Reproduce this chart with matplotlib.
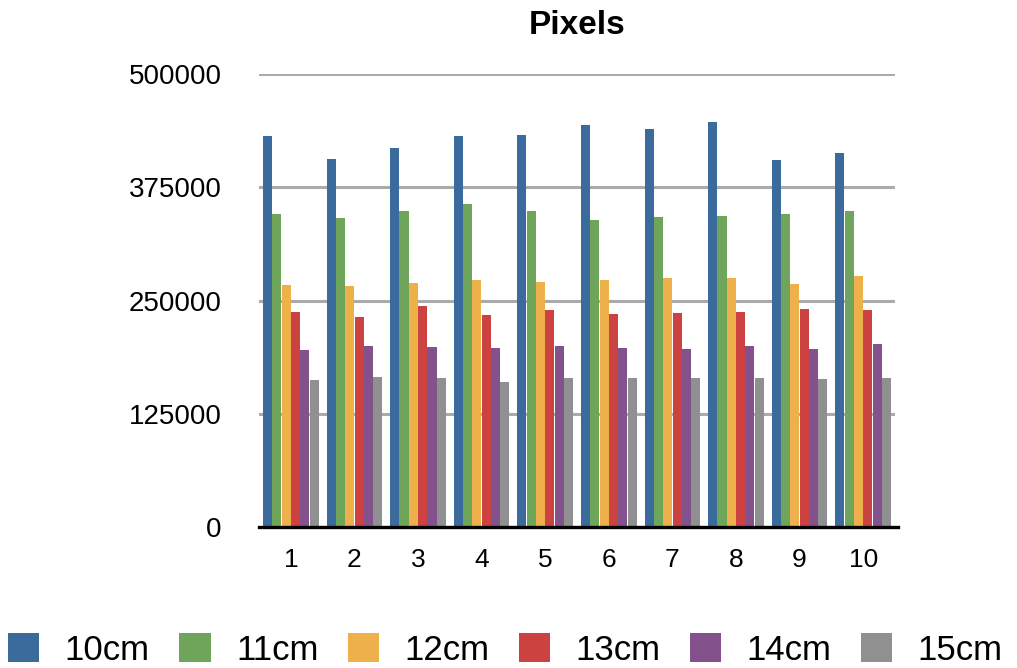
"""Grouped bar chart of pixel counts per measurement distance."""

import numpy as np
import matplotlib
matplotlib.use("Agg")  # no screen needed
import matplotlib.pyplot as plt

plt.rcParams["font.family"] = ["Liberation Sans", "DejaVu Sans"]

# Data
samples = ["1", "2", "3", "4", "5", "6", "7", "8", "9", "10"]
series_names = ["10cm", "11cm", "12cm", "13cm", "14cm", "15cm"]
px_10cm = [432000, 406700, 418800, 432000, 433100, 444200, 439800, 447500, 405600, 413300]
px_11cm = [346000, 341600, 349300, 357000, 349300, 339400, 342700, 343800, 346000, 349300]
px_12cm = [267700, 266600, 269900, 273200, 271000, 273200, 275400, 275400, 268800, 277600]
px_13cm = [237900, 232400, 244500, 234600, 240100, 235700, 236800, 237900, 241200, 240100]
px_14cm = [196000, 200400, 199300, 198200, 200400, 198200, 197100, 200400, 197100, 202600]
px_15cm = [161800, 166200, 165100, 159600, 165100, 164000, 164000, 165100, 162900, 165100]
y_ticks = [0, 125000, 250000, 375000, 500000]

colors = ["#3b6b9c", "#6ea55a", "#edb04b", "#cc4240", "#83528c", "#909090"]
all_series = [px_10cm, px_11cm, px_12cm, px_13cm, px_14cm, px_15cm]

fig = plt.figure(figsize=(10.17, 6.68), dpi=100)
ax = fig.add_axes([0.2547, 0.211, 0.6253, 0.678])

x = np.arange(len(samples))
group_width = 0.88
bar_w = group_width / len(all_series)
for i, (vals, name, col) in enumerate(zip(all_series, series_names, colors)):
    offset = -group_width / 2 + bar_w * (i + 0.5)
    ax.bar(x + offset, vals, width=bar_w * 0.97, color=col, label=name, zorder=3)

ax.set_xlim(-0.5, len(samples) - 0.5)
ax.set_ylim(0, 500000)
ax.set_yticks(y_ticks)
ax.set_yticklabels([str(v) for v in y_ticks], fontsize=20)
ax.set_xticks(x)
ax.set_xticklabels(samples, fontsize=19)
ax.tick_params(axis="y", length=0, pad=27)
ax.tick_params(axis="x", length=0, pad=15)

# light gray gridlines, black baseline
ax.grid(axis="y", color="#aaaaaa", linewidth=2.2, zorder=0)
for s in ax.spines.values():
    s.set_visible(False)
ax.plot([-0.5, 9.55], [0, 0], color="black", linewidth=2.4, zorder=4, clip_on=False)

ax.set_title("Pixels", fontsize=24, fontweight="bold", pad=29)

fig.legend(loc="center", bbox_to_anchor=(0.497, 0.027), ncol=6, frameon=False,
           fontsize=25, handlelength=0.9, handleheight=0.9,
           handletextpad=0.73, columnspacing=0.85)

plt.savefig("out.png", dpi=100)
plt.close()
